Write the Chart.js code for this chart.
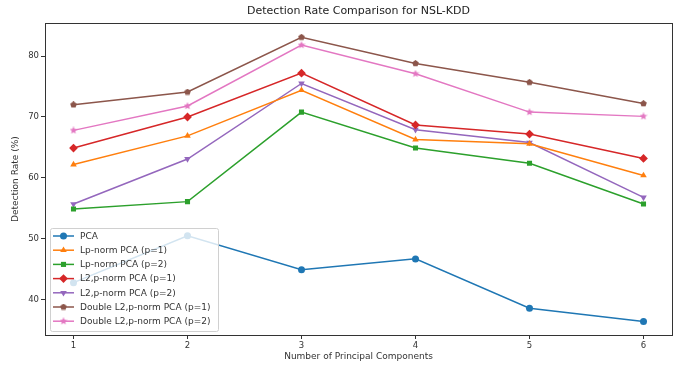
<!DOCTYPE html>
<html>
<head>
<meta charset="utf-8">
<script src="https://cdn.jsdelivr.net/npm/chart.js@4/dist/chart.umd.min.js"></script>
<style>
  html, body { margin: 0; padding: 0; background: #fff; }
  #wrap { width: 680px; height: 368px; }
</style>
</head>
<body>
<div id="wrap"><canvas id="chart" width="680" height="368"></canvas></div>
<script>
// Werte
const components = [1, 2, 3, 4, 5, 6];
const seriesNames = [
  "PCA",
  "Lp-norm PCA (p=1)",
  "Lp-norm PCA (p=2)",
  "L2,p-norm PCA (p=1)",
  "L2,p-norm PCA (p=2)",
  "Double L2,p-norm PCA (p=1)",
  "Double L2,p-norm PCA (p=2)"
];
const pca          = [42.8, 50.5, 44.9, 46.7, 38.6, 36.4];
const lpP1         = [62.2, 66.9, 74.4, 66.3, 65.6, 60.4];
const lpP2         = [54.9, 56.1, 70.8, 64.9, 62.4, 55.7];
const l2pP1        = [64.9, 70.0, 77.2, 68.7, 67.2, 63.2];
const l2pP2        = [55.7, 63.1, 75.5, 67.9, 65.8, 56.8];
const doubleP1     = [72.0, 74.1, 83.1, 78.8, 75.7, 72.2];
const doubleP2     = [67.8, 71.8, 81.8, 77.1, 70.8, 70.1];
const yTicks = [40, 50, 60, 70, 80];

// eigene Marker (Stern, Fünfeck) als kleine Canvas
function makeMarker(color, kind, size) {
  const c = document.createElement("canvas");
  c.width = size; c.height = size;
  const g = c.getContext("2d");
  const cx = size / 2, cy = size / 2;
  const n = kind === "star" ? 10 : 5;
  g.beginPath();
  for (let i = 0; i < n; i++) {
    const r = kind === "star" ? (i % 2 === 0 ? size / 2 : size / 4.4) : size / 2;
    const a = -Math.PI / 2 + i * 2 * Math.PI / n;
    const px = cx + r * Math.cos(a), py = cy + r * Math.sin(a);
    if (i === 0) g.moveTo(px, py); else g.lineTo(px, py);
  }
  g.closePath();
  g.fillStyle = color;
  g.fill();
  return c;
}

const styles = [
  { color: "#1f77b4", pointStyle: "circle", radius: 3.5, rotation: 0 },
  { color: "#ff7f0e", pointStyle: "triangle", radius: 3.8, rotation: 0 },
  { color: "#2ca02c", pointStyle: "rect", radius: 3.6, rotation: 0 },
  { color: "#d62728", pointStyle: "rectRot", radius: 4.4, rotation: 0 },
  { color: "#9467bd", pointStyle: "triangle", radius: 3.8, rotation: 180 },
  { color: "#8c564b", pointStyle: makeMarker("#8c564b", "pent", 7), radius: 3.5, rotation: 0 },
  { color: "#e377c2", pointStyle: makeMarker("#e377c2", "star", 8), radius: 4, rotation: 0 }
];
const allSeries = [pca, lpP1, lpP2, l2pP1, l2pP2, doubleP1, doubleP2];

const datasets = allSeries.map((vals, i) => ({
  label: seriesNames[i],
  data: vals.map((v, k) => ({ x: components[k], y: v })),
  borderColor: styles[i].color,
  backgroundColor: styles[i].color,
  borderWidth: 1.5,
  pointStyle: styles[i].pointStyle,
  pointRadius: styles[i].radius,
  pointRotation: styles[i].rotation,
  pointBorderWidth: 0,
  tension: 0
}));

// Rahmen wie bei matplotlib
const frame = {
  id: "frame",
  afterDraw(chart) {
    const { ctx, chartArea: a } = chart;
    ctx.save();
    ctx.strokeStyle = "#333";
    ctx.lineWidth = 1;
    ctx.strokeRect(Math.round(a.left) + 0.5, Math.round(a.top) + 0.5,
      Math.round(a.right - a.left), Math.round(a.bottom - a.top));
    ctx.restore();
  }
};

// Legende innen unten links
const innerLegend = {
  id: "innerLegend",
  afterDatasetsDraw(chart) {
    const { ctx, chartArea: a } = chart;
    const x0 = a.left + 5, y0 = 228, w = 168, h = 103;
    ctx.save();
    ctx.beginPath();
    ctx.roundRect(x0 + 0.5, y0 + 0.5, w, h, 2);
    ctx.fillStyle = "rgba(255,255,255,0.8)";
    ctx.fill();
    ctx.strokeStyle = "#d0d0d0";
    ctx.lineWidth = 1;
    ctx.stroke();
    ctx.font = "9px 'DejaVu Sans'";
    ctx.textBaseline = "middle";
    seriesNames.forEach((name, i) => {
      const y = y0 + 8 + i * 14.2;
      const st = styles[i];
      ctx.strokeStyle = st.color;
      ctx.fillStyle = st.color;
      ctx.lineWidth = 1.5;
      ctx.beginPath();
      ctx.moveTo(x0 + 3, y);
      ctx.lineTo(x0 + 24, y);
      ctx.stroke();
      Chart.helpers.drawPoint(ctx, {
        pointStyle: st.pointStyle, radius: st.radius,
        rotation: st.rotation, borderWidth: 0
      }, x0 + 13.5, y);
      ctx.fillStyle = "#333";
      ctx.fillText(name, x0 + 30, y + 0.5);
    });
    ctx.restore();
  }
};

new Chart(document.getElementById("chart").getContext("2d"), {
  type: "line",
  data: { datasets },
  options: {
    responsive: false,
    animation: false,
    layout: { padding: { left: 0, right: 8, top: 0, bottom: 0 } },
    plugins: {
      legend: { display: false },
      tooltip: { enabled: false },
      title: {
        display: true,
        fullSize: false,
        text: "Detection Rate Comparison for NSL-KDD",
        color: "#222",
        font: { family: "'DejaVu Sans'", size: 11, weight: "normal" },
        padding: { top: 5, bottom: 5 }
      }
    },
    scales: {
      x: {
        type: "linear",
        min: 0.75,
        max: 6.25,
        afterBuildTicks: (s) => { s.ticks = components.map(v => ({ value: v })); },
        afterFit: (s) => { s.height = 33; },
        ticks: {
          color: "#333",
          font: { family: "'DejaVu Sans'", size: 8.5 },
          padding: 2
        },
        grid: { drawOnChartArea: false, drawTicks: true, tickLength: 4, color: "#333" },
        border: { display: false },
        title: {
          display: true,
          text: "Number of Principal Components",
          color: "#333",
          font: { family: "'DejaVu Sans'", size: 9 },
          padding: { top: 0, bottom: 6 }
        }
      },
      y: {
        min: 34.2,
        max: 85.4,
        afterBuildTicks: (s) => { s.ticks = yTicks.map(v => ({ value: v })); },
        afterFit: (s) => { s.width = 45; },
        ticks: {
          color: "#333",
          font: { family: "'DejaVu Sans'", size: 8.5 },
          padding: 2
        },
        grid: { drawOnChartArea: false, drawTicks: true, tickLength: 4, color: "#333" },
        border: { display: false },
        title: {
          display: true,
          text: "Detection Rate (%)",
          color: "#333",
          font: { family: "'DejaVu Sans'", size: 9 },
          padding: { top: 10, bottom: 0 }
        }
      }
    }
  },
  plugins: [frame, innerLegend]
});
</script>
</body>
</html>
